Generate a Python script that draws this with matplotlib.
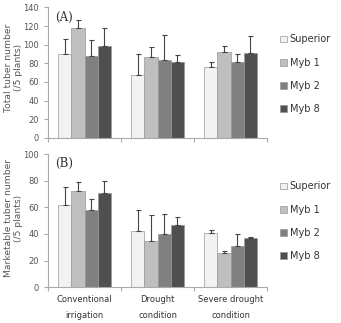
import matplotlib.pyplot as plt
import numpy as np

conditions = ["Conventional\nirrigation", "Drought\ncondition", "Severe drought\ncondition"]
lines = ["Superior", "Myb 1", "Myb 2", "Myb 8"]
colors = ["#f2f2f2", "#bfbfbf", "#808080", "#4f4f4f"]

# (A) total tuber number, mean and upper error per line
total_mean = [[90, 68, 76], [118, 87, 92], [88, 84, 81], [99, 81, 91]]
total_err = [[16, 22, 5], [8, 11, 7], [17, 26, 9], [19, 8, 18]]

# (B) marketable tuber number
market_mean = [[62, 42, 41], [72, 35, 26], [58, 40, 31], [71, 47, 37]]
market_err = [[13, 16, 2], [7, 19, 1], [8, 15, 9], [9, 6, 1]]

fig = plt.figure(figsize=(3.41, 3.23), dpi=100)
ax1 = fig.add_axes([0.141, 0.573, 0.642, 0.404])
ax2 = fig.add_axes([0.141, 0.111, 0.642, 0.412])

x = np.arange(len(conditions))
w = 0.18
grey = "#555555"

def panel(ax, means, errs, ymax, step, label, tag, ly):
    for i, name in enumerate(lines):
        pos = x + (i - 1.5) * w
        ax.bar(pos, means[i], w, color=colors[i], edgecolor="#999999",
               linewidth=0.5, label=name)
        ax.errorbar(pos, means[i], yerr=[np.zeros(3), errs[i]], fmt="none",
                    ecolor="#444444", elinewidth=0.8, capsize=1.8, capthick=0.8)
    ax.set_xlim(-0.5, 2.5)
    ax.set_ylim(0, ymax)
    ax.set_yticks(np.arange(0, ymax + 1, step))
    ax.set_xticks([-0.5, 0.5, 1.5, 2.5])
    ax.set_xticklabels([])
    for s in ["top", "right"]:
        ax.spines[s].set_visible(False)
    for s in ["left", "bottom"]:
        ax.spines[s].set_color("#aaaaaa")
        ax.spines[s].set_linewidth(0.8)
    ax.tick_params(axis="both", colors="#aaaaaa", length=3, width=0.8,
                   labelsize=6, labelcolor=grey)
    ax.set_ylabel(label, fontsize=6.6, color=grey, linespacing=1.1)
    ax.yaxis.set_label_coords(-0.115, ly)
    ax.text(0.03, 0.975, tag, transform=ax.transAxes, fontsize=8.5,
            family="DejaVu Serif", va="top", ha="left", color="#333333")
    leg = ax.legend(loc="upper left", bbox_to_anchor=(1.02, 0.86), frameon=False,
                    fontsize=7, labelspacing=1.35, handlelength=0.7,
                    handleheight=0.7, handletextpad=0.3)
    for t in leg.get_texts():
        t.set_color("#333333")

panel(ax1, total_mean, total_err, 140, 20, "Total tuber number\n(/5 plants)", "(A)", 0.54)
panel(ax2, market_mean, market_err, 100, 20, "Marketable tuber number\n(/5 plants)", "(B)", 0.52)

ax2.set_xticks(x, minor=True)
ax2.set_xticklabels(conditions, minor=True, fontsize=6, color="#333333", linespacing=2.0)
ax2.tick_params(axis="x", which="minor", length=0, pad=6)

fig.savefig("out.png", dpi=100)
